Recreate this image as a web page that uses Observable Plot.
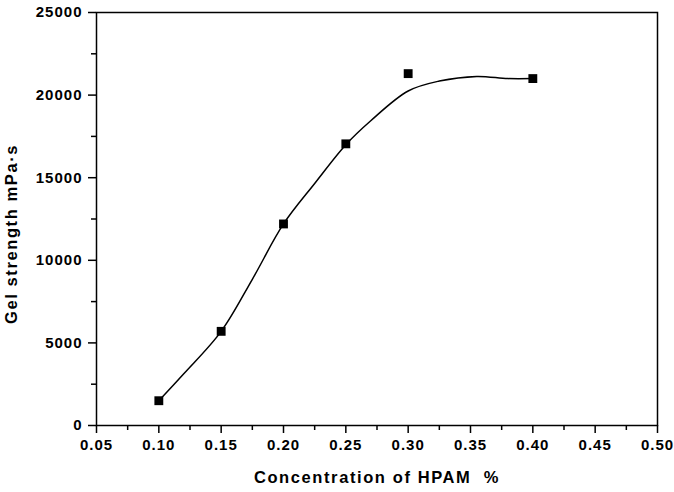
<!DOCTYPE html>
<html>
<head>
<meta charset="utf-8">
<script src="https://cdn.jsdelivr.net/npm/d3@7"></script>
<script src="https://cdn.jsdelivr.net/npm/@observablehq/plot@0.6"></script>
<style>
  html, body { margin: 0; padding: 0; background: #fff; }
  svg { font-family: "Liberation Sans", Arial, sans-serif; font-weight: bold; }
  svg g[aria-label$="tick label"] { letter-spacing: 1px; }
  svg g[aria-label="text"] { letter-spacing: 1.6px; }
</style>
</head>
<body>
<div id="chart"></div>
<script>
// Measured gel strength at each HPAM concentration
const concentration = [0.10, 0.15, 0.20, 0.25, 0.30, 0.40];
const gelStrength = [1500, 5700, 12200, 17050, 21300, 21000];

// Fitted trend curve, sampled along its path
const fitConcentration = [0.10, 0.12, 0.15, 0.175, 0.20, 0.225, 0.25, 0.27, 0.30, 0.325, 0.355, 0.38, 0.40];
const fitStrength = [1500, 3130, 5700, 8850, 12200, 14650, 17000, 18450, 20250, 20850, 21130, 21000, 21000];

// Axis tick values
const xTicks = [0.05, 0.10, 0.15, 0.20, 0.25, 0.30, 0.35, 0.40, 0.45, 0.50];
const xMinorTicks = [0.075, 0.125, 0.175, 0.225, 0.275, 0.325, 0.375, 0.425, 0.475];
const yTicks = [0, 5000, 10000, 15000, 20000, 25000];
const yMinorTicks = [2500, 7500, 12500, 17500, 22500];

const xLabel = "Concentration of HPAM  %";
const yLabel = "Gel strength mPa·s";

const points = concentration.map((c, i) => ({c, g: gelStrength[i]}));
const fit = fitConcentration.map((c, i) => ({c, g: fitStrength[i]}));

const chart = Plot.plot({
  width: 674,
  height: 492,
  marginLeft: 96,
  marginRight: 17,
  marginTop: 12,
  marginBottom: 67,
  style: {fontSize: "15px", color: "#000", background: "#fff"},
  x: {domain: [0.05, 0.50]},
  y: {domain: [0, 25000]},
  marks: [
    Plot.axisX({ticks: xTicks, tickFormat: d3.format(".2f"), tickSize: 8, tickPadding: 6, strokeWidth: 1.5, label: null, fontSize: 15}),
    Plot.axisX({ticks: xMinorTicks, tickSize: 5, text: null, strokeWidth: 1.5, label: null}),
    Plot.axisY({ticks: yTicks, tickFormat: d3.format("d"), tickSize: 8, tickPadding: 6, strokeWidth: 1.5, label: null, fontSize: 15}),
    Plot.axisY({ticks: yMinorTicks, tickSize: 5, text: null, strokeWidth: 1.5, label: null}),
    Plot.frame({stroke: "#000", strokeWidth: 1.5}),
    Plot.line(fit, {x: "c", y: "g", curve: "catmull-rom", stroke: "#000", strokeWidth: 1.5}),
    Plot.dot(points, {x: "c", y: "g", symbol: "square", r: 5, fill: "#000", stroke: null}),
    Plot.text([xLabel], {text: d => d, frameAnchor: "bottom", dy: 57, fontSize: 16.5, fill: "#000"}),
    Plot.text([yLabel], {text: d => d, frameAnchor: "left", textAnchor: "middle", rotate: -90, dx: -85, dy: 15, fontSize: 16.5, fill: "#000"})
  ]
});

document.getElementById("chart").appendChild(chart);
</script>
</body>
</html>
